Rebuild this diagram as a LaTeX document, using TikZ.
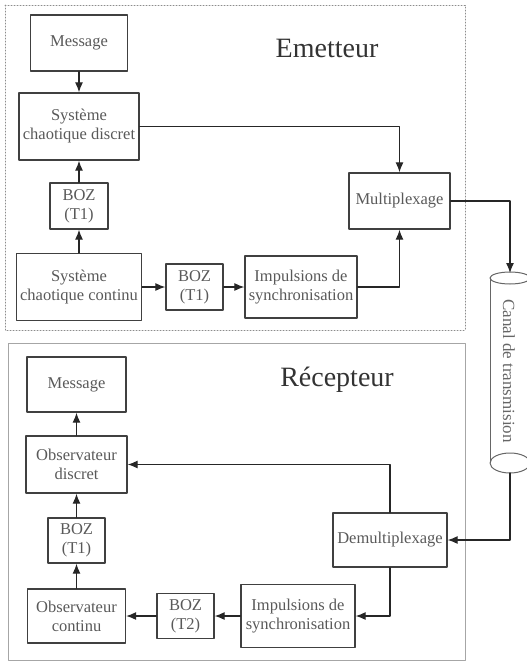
\documentclass[tikz,border=0pt]{standalone}
\usepackage{fontspec}
\setmainfont{Liberation Serif}
\usetikzlibrary{arrows.meta}

\tikzset{
  bloc/.style={draw=black!75, line width=1.3pt, text=black!65, align=center,
    inner sep=0pt, font=\fontsize{16.5}{19}\selectfont},
  titre/.style={text=black!80, font=\fontsize{28}{32}\selectfont},
  lien/.style={->, line width=1.2pt, black!85}
}

\begin{document}
\begin{tikzpicture}[x=1pt, y=-1pt, >={Latex[length=10pt,width=8pt]}, line cap=round, line join=round]

\useasboundingbox (0,0) rectangle (527,662);

% Cadres
\draw[black!45, dotted, line width=1pt] (5,5) rectangle (465,330);
\draw[black!35, line width=1pt] (8,343) rectangle (465,660);
\node[titre] (tE) at (327,48) {Emetteur};
\node[titre] (tR) at (337,380) {Récepteur};

% Emetteur
\node[bloc, minimum width=97pt, minimum height=56pt] (msgE) at (79,43) {Message};
\node[bloc, minimum width=120pt, minimum height=67pt] (discE) at (79,126.5) {Système\\chaotique discret};
\node[bloc, minimum width=58pt, minimum height=46pt] (bozE1) at (79,206) {BOZ\\(T1)};
\node[bloc, minimum width=125pt, minimum height=67pt] (contE) at (79,287) {Système\\chaotique continu};
\node[bloc, minimum width=57pt, minimum height=46pt] (bozE2) at (194.5,287) {BOZ\\(T1)};
\node[bloc, minimum width=112pt, minimum height=62pt] (impE) at (301,287) {Impulsions de\\synchronisation};
\node[bloc, minimum width=101pt, minimum height=56pt] (mux) at (399.5,201) {Multiplexage};

\draw[lien] (msgE) -- (discE);
\draw[lien] (bozE1) -- (discE);
\draw[lien] (contE) -- (bozE1);
\draw[lien] (contE) -- (bozE2);
\draw[lien] (bozE2) -- (impE);
\draw[lien] (impE) -| (mux);
\draw[lien] (discE) -| (mux);

% Canal
\coordinate (canalHaut) at (510,273);
\coordinate (canalBas) at (510,473);
\draw[black!60, line width=1pt] (490,278) -- (490,463) (530,278) -- (530,463);
\draw[black!60, line width=1pt, fill=white] (510,278) ellipse [x radius=20pt, y radius=6pt];
\draw[black!60, line width=1pt] (510,463) ellipse [x radius=20pt, y radius=10pt];
\node[rotate=-90, text=black!60, font=\fontsize{17}{19}\selectfont] (canal) at (509,371) {Canal de transmision};
\draw[lien] (mux) -| (canalHaut);

% Recepteur
\node[bloc, minimum width=99pt, minimum height=55pt] (msgR) at (76.5,384.5) {Message};
\node[bloc, minimum width=101pt, minimum height=57pt] (obsD) at (76.5,464.5) {Observateur\\discret};
\node[bloc, minimum width=57pt, minimum height=45pt] (bozR1) at (76.5,540.5) {BOZ\\(T1)};
\node[bloc, minimum width=98pt, minimum height=54pt] (obsC) at (76.5,616) {Observateur\\continu};
\node[bloc, minimum width=57pt, minimum height=45pt] (bozR2) at (185.5,616) {BOZ\\(T2)};
\node[bloc, minimum width=114pt, minimum height=63pt] (impR) at (298,616) {Impulsions de\\synchronisation};
\node[bloc, minimum width=114pt, minimum height=54pt] (demux) at (390,540) {Demultiplexage};

\draw[lien] (canalBas) |- (demux);
\draw[lien] (demux.north) |- (obsD);
\draw[lien] (demux.south) |- (impR);
\draw[lien] (impR) -- (bozR2);
\draw[lien] (bozR2) -- (obsC);
\draw[lien] (obsC) -- (bozR1);
\draw[lien] (bozR1) -- (obsD);
\draw[lien] (obsD) -- (msgR);

\end{tikzpicture}
\end{document}
